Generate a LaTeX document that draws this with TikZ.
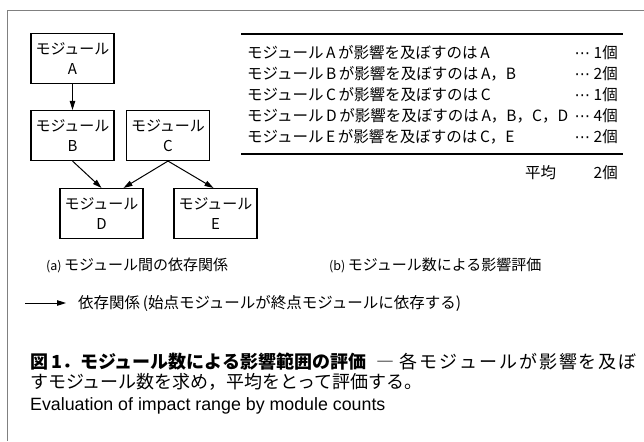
\documentclass[tikz,border=0pt]{standalone}
\usepackage{fontspec}
\setmainfont{Noto Sans CJK JP}
\newfontfamily\enfont{Liberation Sans}
\newfontfamily\dvfont{DejaVu Sans}
\usetikzlibrary{arrows.meta}
\newcommand{\fwdots}{{\dvfont ⋯}}
\newcommand{\ck}{\kern1.9pt\relax}
\begin{document}
\begin{tikzpicture}[x=1pt,y=-1pt,
  mod/.style={draw, line width=1.1pt, minimum width=83pt, minimum height=50pt, inner sep=0pt, align=center, font=\fontsize{15}{20}\selectfont},
  dep/.style={-{Triangle[length=9pt,width=5.5pt]}, line width=1pt},
  tx/.style={anchor=west, inner sep=0pt, font=\fontsize{15.5}{15.5}\selectfont},
  cnt/.style={anchor=east, inner sep=0pt, font=\fontsize{15.5}{15.5}\selectfont},
  sub/.style={anchor=west, inner sep=0pt, font=\fontsize{15}{15}\selectfont},
  rule/.style={line width=1.1pt},
  frame/.style={draw=gray, line width=0.9pt}
]
\useasboundingbox (0,0) rectangle (644,441);
% frame
\draw[frame] (644,10) -- (7,10) -- (7,441);

% (a) module graph
\node[mod] (A) at (72.5,58.5) {モジュール\\A};
\node[mod] (B) at (72.5,135.5) {モジュール\\B};
\node[mod] (C) at (168,135.5) {モジュール\\C};
\node[mod] (D) at (101.5,213.5) {モジュール\\D};
\node[mod] (E) at (215.5,213.5) {モジュール\\E};
\draw[dep] (A.south) -- (B.north);
\draw[dep] (B.south) -- (D.north);
\draw[dep] (C.south) -- ([xshift=22pt]D.north);
\draw[dep] (C.south) -- ([xshift=-2pt]E.north);

% (b) table
\draw[rule] (241,34) -- (623,34);
\node[tx] (r1) at (247,53)  {モジュール\,A\,が影響を及ぼすのは\,A};
\node[tx] (r2) at (247,74)  {モジュール\,B\,が影響を及ぼすのは\,A，B};
\node[tx] (r3) at (247,95)  {モジュール\,C\,が影響を及ぼすのは\,C};
\node[tx] (r4) at (247,116) {モジュール\,D\,が影響を及ぼすのは\,A，B，C，D};
\node[tx] (r5) at (247,137) {モジュール\,E\,が影響を及ぼすのは\,C，E};
\node[cnt] (c1) at (618,53)  {\fwdots\ 1個};
\node[cnt] (c2) at (618,74)  {\fwdots\ 2個};
\node[cnt] (c3) at (618,95)  {\fwdots\ 1個};
\node[cnt] (c4) at (618,116) {\fwdots\ 4個};
\node[cnt] (c5) at (618,137) {\fwdots\ 2個};
\draw[rule] (241,154) -- (623,154);
\node[tx] (avg) at (525,173) {平均};
\node[cnt] (avgv) at (618,173) {2個};

% sub captions
\node[sub] (capa) at (46,265) {{\fontsize{12.5}{12}\selectfont (a)}\,モジュール間の依存関係};
\node[sub] (capb) at (329,265) {{\fontsize{12.5}{12}\selectfont (b)}\,モジュール数による影響評価};

% legend
\coordinate (L1) at (25,303);
\coordinate (L2) at (66,303);
\draw[dep] (L1) -- (L2);
\node[sub, font=\fontsize{15.5}{15.5}\selectfont] (leg) at (78,303) {依存関係\,(始点モジュールが終点モジュールに依存する)};

% caption
\node[anchor=west, inner sep=0pt, font=\fontsize{18}{18}\selectfont\bfseries] (cap1) at (30,362) {図\,1．モジュール数による影響範囲の評価};
\node[anchor=east, inner sep=0pt, font=\fontsize{18}{18}\selectfont] (cap2) at (637,362) {―\kern5pt 各\ck モ\ck ジ\ck ュ\ck ー\ck ル\ck が\ck 影\ck 響\ck を\ck 及\ck ぼ};
\node[anchor=west, inner sep=0pt, font=\fontsize{18}{18}\selectfont] (cap3) at (30,382) {すモジュール数を求め，平均をとって評価する。};
\node[anchor=west, inner sep=0pt, font=\enfont\fontsize{17.8}{17.8}\selectfont] (cap4) at (30,406) {Evaluation of impact range by module counts};
\end{tikzpicture}
\end{document}
